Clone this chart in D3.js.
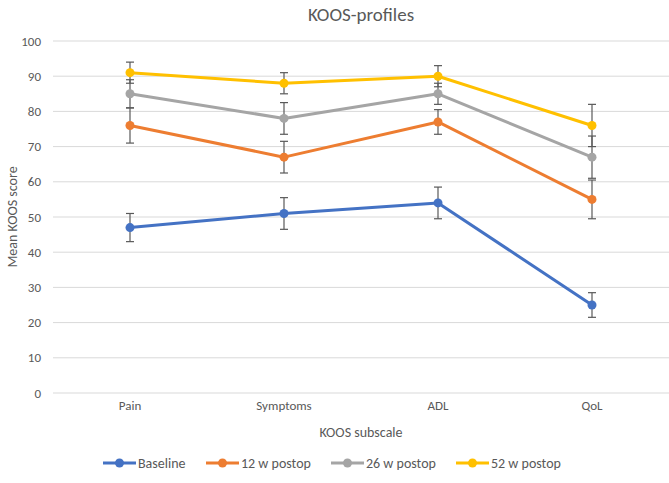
<!DOCTYPE html>
<html>
<head>
<meta charset="utf-8">
<script src="https://cdn.jsdelivr.net/npm/d3@7"></script>
<style>
  body { margin: 0; background: #fff; }
  text { font-family: Carlito, Lato, "Open Sans", sans-serif; fill: #595959; }
</style>
</head>
<body>
<script>
// KOOS profiles, mean score with error bars per subscale
const categories = ['Pain', 'Symptoms', 'ADL', 'QoL'];
const seriesNames = ['Baseline', '12 w postop', '26 w postop', '52 w postop'];
const seriesColors = ['#4472C4', '#ED7D31', '#A5A5A5', '#FFC000'];

const baseline = [47, 51, 54, 25];
const w12 = [76, 67, 77, 55];
const w26 = [85, 78, 85, 67];
const w52 = [91, 88, 90, 76];

// half-length of each error bar
const baselineErr = [4, 4.5, 4.5, 3.5];
const w12Err = [5, 4.5, 3.5, 5.5];
const w26Err = [4, 4.5, 3, 6];
const w52Err = [3, 3, 3, 6];

const yTicks = [0, 10, 20, 30, 40, 50, 60, 70, 80, 90, 100];

const values = [baseline, w12, w26, w52];
const errors = [baselineErr, w12Err, w26Err, w52Err];

const width = 669, height = 483;
const margin = {top: 41, right: 0, bottom: 90, left: 53};

const svg = d3.select('body').append('svg')
  .attr('width', width)
  .attr('height', height);

const x = d3.scaleBand()
  .domain(categories)
  .range([margin.left, width - margin.right]);

const y = d3.scaleLinear()
  .domain([0, 100])
  .range([393, margin.top]);

// gridlines
svg.append('g')
  .selectAll('line')
  .data(yTicks)
  .enter().append('line')
  .attr('x1', margin.left)
  .attr('x2', width - margin.right)
  .attr('y1', d => y(d))
  .attr('y2', d => y(d))
  .attr('stroke', '#d9d9d9')
  .attr('stroke-width', 1);

// y axis labels
const yAxis = d3.axisLeft(y).tickValues(yTicks).tickSize(0).tickPadding(0);
const yg = svg.append('g')
  .attr('transform', `translate(${margin.left - 12},0)`)
  .call(yAxis);
yg.select('.domain').remove();
yg.selectAll('text')
  .style('font-size', '13px')
  .attr('fill', '#595959');

// x axis labels
const xAxis = d3.axisBottom(x).tickSize(0).tickPadding(0);
const xg = svg.append('g')
  .attr('transform', 'translate(0,401)')
  .call(xAxis);
xg.select('.domain').remove();
xg.selectAll('text')
  .style('font-size', '13px')
  .attr('fill', '#595959');

// titles
svg.append('text')
  .attr('x', (margin.left + width) / 2)
  .attr('y', 21)
  .attr('text-anchor', 'middle')
  .style('font-size', '19px')
  .text('KOOS-profiles');

svg.append('text')
  .attr('x', (margin.left + width) / 2)
  .attr('y', 437)
  .attr('text-anchor', 'middle')
  .style('font-size', '14px')
  .text('KOOS subscale');

svg.append('text')
  .attr('transform', `translate(17,${y(50)}) rotate(-90)`)
  .attr('text-anchor', 'middle')
  .style('font-size', '14px')
  .text('Mean KOOS score');

const cx = d => x(d) + x.bandwidth() / 2;

// error bars
values.forEach((vals, s) => {
  const g = svg.append('g');
  categories.forEach((c, i) => {
    const lo = y(vals[i] - errors[s][i]);
    const hi = y(vals[i] + errors[s][i]);
    g.append('line')
      .attr('x1', cx(c)).attr('x2', cx(c))
      .attr('y1', lo).attr('y2', hi)
      .attr('stroke', '#595959').attr('stroke-width', 1.2);
    [lo, hi].forEach(yy => {
      g.append('line')
        .attr('x1', cx(c) - 4).attr('x2', cx(c) + 4)
        .attr('y1', yy).attr('y2', yy)
        .attr('stroke', '#595959').attr('stroke-width', 1.2);
    });
  });
});

// lines and markers
const line = d3.line()
  .x((d, i) => cx(categories[i]))
  .y(d => y(d));

values.forEach((vals, s) => {
  svg.append('path')
    .datum(vals)
    .attr('d', line)
    .attr('fill', 'none')
    .attr('stroke', seriesColors[s])
    .attr('stroke-width', 3)
    .attr('stroke-linejoin', 'round');

  svg.append('g')
    .selectAll('circle')
    .data(vals)
    .enter().append('circle')
    .attr('cx', (d, i) => cx(categories[i]))
    .attr('cy', d => y(d))
    .attr('r', 4.5)
    .attr('fill', seriesColors[s]);
});

// legend
const legendX = [103, 206, 331, 456];
const legend = svg.append('g').attr('transform', 'translate(0,463)');
seriesNames.forEach((name, s) => {
  const lg = legend.append('g').attr('transform', `translate(${legendX[s]},0)`);
  lg.append('line')
    .attr('x1', 0).attr('x2', 33)
    .attr('stroke', seriesColors[s]).attr('stroke-width', 3);
  lg.append('circle')
    .attr('cx', 16.5).attr('r', 4.5)
    .attr('fill', seriesColors[s]);
  lg.append('text')
    .attr('x', 35)
    .attr('dy', '0.35em')
    .style('font-size', '14px')
    .text(name);
});
</script>
</body>
</html>
